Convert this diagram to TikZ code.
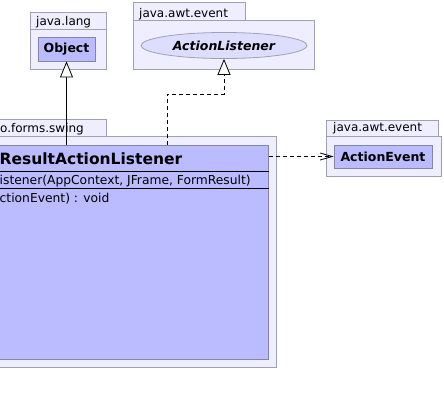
\documentclass[tikz,border=0pt]{standalone}
\usepackage{fontspec}
\setmainfont{DejaVu Sans}
\usetikzlibrary{arrows.meta, positioning, calc, shapes.geometric}
\definecolor{pkgfill}{HTML}{EEEEFF}
\definecolor{pkgline}{HTML}{A0A0B4}
\definecolor{clsfill}{HTML}{BBBBFF}
\definecolor{clsline}{HTML}{8484A8}
\definecolor{ifcfill}{HTML}{DDDDFF}
\begin{document}
\begin{tikzpicture}[x=1pt, y=-1pt,
				pkg/.style={draw=pkgline, fill=pkgfill, line width=0.8pt},
				pkgname/.style={anchor=base west, inner sep=0pt, font=\fontsize{12}{14}\selectfont},
				cls/.style={rectangle, draw=clsline, fill=clsfill, line width=0.8pt, inner sep=0pt},
				ifc/.style={ellipse, draw=pkgline, fill=ifcfill, line width=0.8pt, inner sep=0pt,
					minimum width=166pt, minimum height=26pt, font=\fontsize{12.5}{14}\selectfont\bfseries\itshape},
				member/.style={anchor=base west, inner sep=0pt, font=\fontsize{12.3}{14}\selectfont},
				extends/.style={-{Triangle[width=13pt, length=16pt, fill=white]}, line width=0.8pt},
				realizes/.style={extends, dash pattern=on 4pt off 3pt},
				depends/.style={-{Straight Barb[length=12pt, width=7pt]}, line width=0.8pt, dash pattern=on 4pt off 3pt}
				]
				\clip (0,0) rectangle (444,405);
				\fill[white] (0,0) rectangle (444,405);
				
				% --- Package java.lang ---
				\draw[pkg] (30,12) rectangle (106,29);
				\draw[pkg] (30,29) rectangle (106,69);
				\node[pkgname] (langname) at (36,25) {java.lang};
				\node[cls, minimum width=57pt, minimum height=24pt, font=\fontsize{12.5}{14}\selectfont\bfseries] (obj) at (66.5,49) {Object};
				
				% --- Package java.awt.event (top) ---
				\draw[pkg] (133,2) rectangle (245,20);
				\draw[pkg] (133,20) rectangle (314,69);
				\node[pkgname] (awtname) at (139,17) {java.awt.event};
				\node[ifc] (al) at (224,45.5) {ActionListener};
				
				% --- Package ...forms.swing ---
				\draw[pkg] (-10,119) rectangle (106,136);
				\draw[pkg] (-10,136) rectangle (276,367);
				\node[pkgname] (swingname) at (0,132) {o.forms.swing};
				\node[cls, anchor=north west, minimum width=278pt, minimum height=214pt] (cls) at (-10,145) {};
				\node[anchor=base west, inner sep=0pt, font=\fontsize{15.5}{18}\selectfont\bfseries] (clsname) at (-0.5,164) {ResultActionListener};
				\draw[line width=0.8pt] (cls.west |- 0,171) -- (cls.east |- 0,171);
				\draw[line width=0.8pt] (cls.west |- 0,188) -- (cls.east |- 0,188);
				\node[member] (ctor) at (-0.5,184) {istener(AppContext, JFrame, FormResult)};
				\node[member] (meth) at (-0.5,202) {ctionEvent) : void};
				
				% --- Package java.awt.event (right) ---
				\draw[pkg] (326,120) rectangle (438,136);
				\draw[pkg] (326,136) rectangle (441,176);
				\node[pkgname] (awtname2) at (333,131) {java.awt.event};
				\node[cls, minimum width=98pt, minimum height=23pt, font=\fontsize{12.5}{14}\selectfont\bfseries] (ae) at (383,156.5) {ActionEvent};
				
				% --- Connectors ---
				\coordinate (bend) at (167,94);
				\draw[extends] (obj.south |- cls.north) -- (obj.south);
				\draw[realizes] (bend |- cls.north) -- (bend) -| (al.south);
				\draw[depends] (ae.west -| cls.east) -- (ae.west);
			\end{tikzpicture}
\end{document}
